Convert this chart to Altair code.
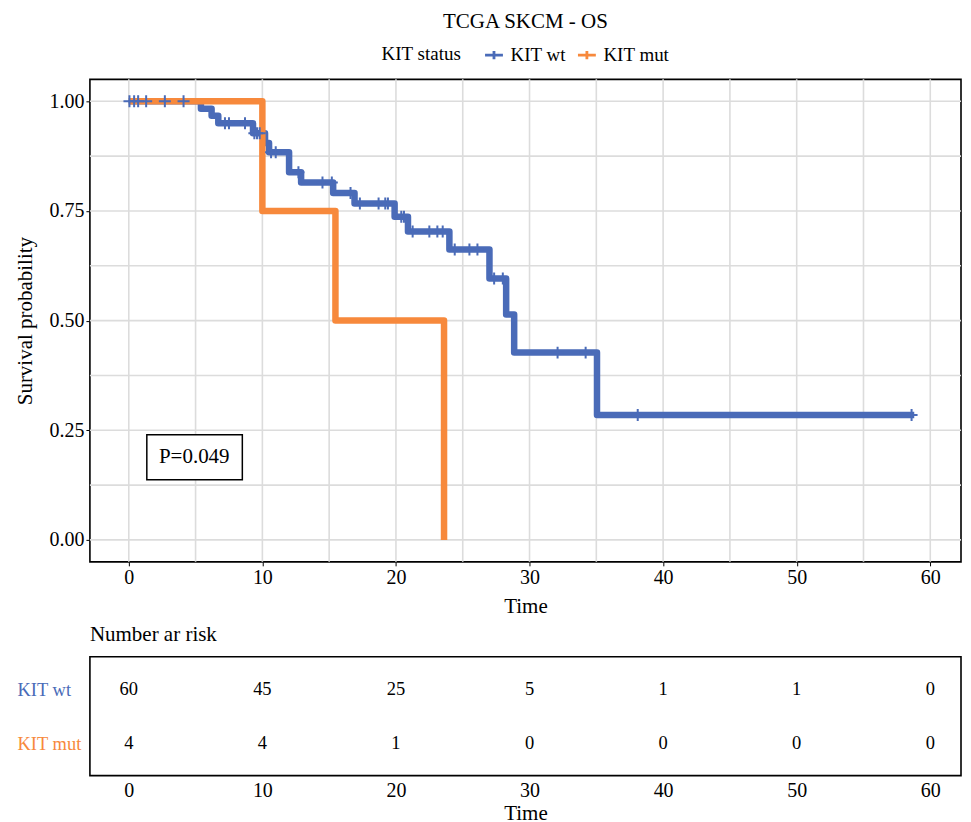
import altair as alt
import pandas as pd

# ---------------- data ----------------
GROUPS = ["KIT wt", "KIT mut"]
BLUE = "#4A6BB8"
ORANGE = "#F7893C"
FONT = "Liberation Serif"

WT_STEP_TIMES = [0, 5.4, 6.2, 6.7, 9.3, 10.2, 10.5, 12.0, 12.9, 15.3, 16.9, 19.9, 20.9, 24.0, 27.0, 28.25, 28.85, 35.05, 58.8]
WT_STEP_SURV = [1.0, 0.983, 0.967, 0.95, 0.927, 0.905, 0.884, 0.838, 0.815, 0.791, 0.767, 0.737, 0.703, 0.662, 0.596, 0.514, 0.427, 0.285, 0.285]

MUT_STEP_TIMES = [0, 10.0, 15.47, 23.6]
MUT_STEP_SURV = [1.0, 0.75, 0.5, 0.0]

WT_CENSOR_TIMES = [0.05, 0.4, 0.7, 1.3, 2.7, 4.1, 7.2, 7.5, 8.7, 9.4, 9.6, 9.8,
                   10.65, 11.0, 12.7, 14.5, 15.2, 16.6, 17.3, 18.7, 19.2, 19.4,
                   20.4, 20.6, 21.25, 22.5, 23.1, 23.5, 24.4, 25.5, 26.1, 27.35,
                   28.0, 32.1, 34.2, 38.1, 58.6]

RISK_TIMES = [0, 10, 20, 30, 40, 50, 60]
WT_RISK = [60, 45, 25, 5, 1, 1, 0]
MUT_RISK = [4, 4, 1, 0, 0, 0, 0]

X_TICKS = [0, 10, 20, 30, 40, 50, 60]
Y_TICKS = [0, 0.25, 0.5, 0.75, 1.0]
GRID_X = [0, 5, 10, 15, 20, 25, 30, 35, 40, 45, 50, 55, 60]
GRID_Y = [0, 0.125, 0.25, 0.375, 0.5, 0.625, 0.75, 0.875, 1.0]

PVAL = pd.DataFrame({"label": ["P=0.049"], "x": [4.9], "y": [0.188],
                     "x0": [1.35], "x1": [8.5], "y0": [0.137], "y1": [0.24]})


def step_value(times, surv, t):
    v = surv[0]
    for ti, si in zip(times, surv):
        if ti <= t:
            v = si
    return v


wt_df = pd.DataFrame({"group": "KIT wt", "time": WT_STEP_TIMES, "surv": WT_STEP_SURV})
mut_df = pd.DataFrame({"group": "KIT mut", "time": MUT_STEP_TIMES, "surv": MUT_STEP_SURV})
cens_df = pd.DataFrame({"group": "KIT wt", "time": WT_CENSOR_TIMES,
                        "surv": [step_value(WT_STEP_TIMES, WT_STEP_SURV, t) for t in WT_CENSOR_TIMES]})

risk_df = pd.DataFrame({
    "time": RISK_TIMES * 2,
    "group": ["KIT wt"] * len(RISK_TIMES) + ["KIT mut"] * len(RISK_TIMES),
    "n": WT_RISK + MUT_RISK,
})

# ---------------- scales / axes ----------------
xscale = alt.Scale(domain=[-2.91, 62.3], nice=False, zero=False)
yscale = alt.Scale(domain=[-0.05, 1.05], nice=False, zero=False)
cscale = alt.Scale(domain=GROUPS, range=[BLUE, ORANGE])

x_axis = alt.Axis(values=X_TICKS, grid=False, domain=False, ticks=True, tickColor="black",
                  tickSize=4, tickWidth=1, labelFont=FONT, labelFontSize=20, labelColor="black",
                  labelPadding=2, title="Time", titleFont=FONT, titleFontSize=21,
                  titleFontWeight="normal", titleColor="black", titlePadding=8)
y_axis = alt.Axis(values=Y_TICKS, format=".2f", grid=False, domain=False, ticks=True,
                  tickColor="black", tickSize=4, tickWidth=1, labelFont=FONT, labelFontSize=20,
                  labelColor="black", labelPadding=2, title="Survival probability",
                  titleFont=FONT, titleFontSize=21, titleFontWeight="normal",
                  titleColor="black", titlePadding=13)

X = lambda f: alt.X(f, scale=xscale, axis=x_axis)
Y = lambda f: alt.Y(f, scale=yscale, axis=y_axis)

grid_v = alt.Chart(pd.DataFrame({"gx": GRID_X})).mark_rule(color="#DCDCDC", strokeWidth=1.6).encode(
    x=X("gx:Q"))
grid_h = alt.Chart(pd.DataFrame({"gy": GRID_Y})).mark_rule(color="#DCDCDC", strokeWidth=1.6).encode(
    y=Y("gy:Q"))

legend = alt.Legend(orient="none", legendX=292, legendY=-35, direction="horizontal",
                    title="KIT status", titleOrient="left", titleFont=FONT, titleFontSize=19,
                    titleFontWeight="normal", titleColor="black", titlePadding=22,
                    labelFont=FONT, labelFontSize=19, labelColor="black", labelOffset=6,
                    symbolType="M-1,0H1M0,-0.45V0.45", symbolSize=320, symbolStrokeWidth=2.8,
                    columnPadding=5)

line_wt = alt.Chart(wt_df).mark_line(interpolate="step-after", strokeWidth=6.5, strokeJoin="round").encode(
    x=X("time:Q"), y=Y("surv:Q"),
    color=alt.Color("group:N", scale=cscale, legend=legend))
line_mut = alt.Chart(mut_df).mark_line(interpolate="step-after", strokeWidth=6.5, strokeJoin="round").encode(
    x=X("time:Q"), y=Y("surv:Q"),
    color=alt.Color("group:N", scale=cscale, legend=legend))
cens = alt.Chart(cens_df).mark_point(shape="M-1,0H1M0,-1V1", size=144, strokeWidth=2,
                                     filled=False, opacity=1).encode(
    x=X("time:Q"), y=Y("surv:Q"),
    color=alt.Color("group:N", scale=cscale, legend=legend))

pbox = alt.Chart(PVAL).mark_rect(fill="white", stroke="black", strokeWidth=1.5).encode(
    x=X("x0:Q"), x2="x1:Q", y=Y("y0:Q"), y2="y1:Q")
ptext = alt.Chart(PVAL).mark_text(font=FONT, fontSize=21, color="black").encode(
    x=X("x:Q"), y=Y("y:Q"), text="label:N")

top = alt.layer(grid_v, grid_h, line_wt, line_mut, cens, pbox, ptext).properties(
    width=872, height=483,
    view=alt.ViewBackground(stroke="black", strokeWidth=1.6),
    title=alt.Title("TCGA SKCM - OS", anchor="middle", frame="group", font=FONT, fontSize=21,
                    fontWeight="normal", color="black", offset=47),
)

# ---------------- risk table ----------------
bx_axis = alt.Axis(values=X_TICKS, grid=False, domain=False, ticks=False, labelFont=FONT,
                   labelFontSize=20, labelColor="black", labelPadding=5, title="Time",
                   titleFont=FONT, titleFontSize=21, titleFontWeight="normal", titleColor="black",
                   titlePadding=2)
by_axis = alt.Axis(grid=False, domain=False, ticks=False, labelFont=FONT, labelFontSize=18.5,
                   labelColor={"expr": f"datum.value == 'KIT wt' ? '{BLUE}' : '{ORANGE}'"},
                   labelAlign="left", labelPadding=73, title=None)

table = alt.Chart(risk_df).mark_text(font=FONT, fontSize=18.5, color="black").encode(
    x=alt.X("time:Q", scale=xscale, axis=bx_axis),
    y=alt.Y("group:N", scale=alt.Scale(type="point", domain=GROUPS, padding=0.6), axis=by_axis),
    text="n:Q",
).properties(
    width=872, height=119,
    view=alt.ViewBackground(stroke="black", strokeWidth=1.6),
    title=alt.Title("Number ar risk", anchor="start", frame="group", font=FONT, fontSize=21,
                    fontWeight="normal", color="black", offset=12),
)

chart = alt.vconcat(top, table, spacing=5).properties(
    padding={"left": 6, "top": 1, "right": 0, "bottom": 0},
    background="white",
).configure_view(stroke="black", strokeWidth=1.6)

chart.save("out.html", embed_options={"renderer": "svg", "actions": False})
